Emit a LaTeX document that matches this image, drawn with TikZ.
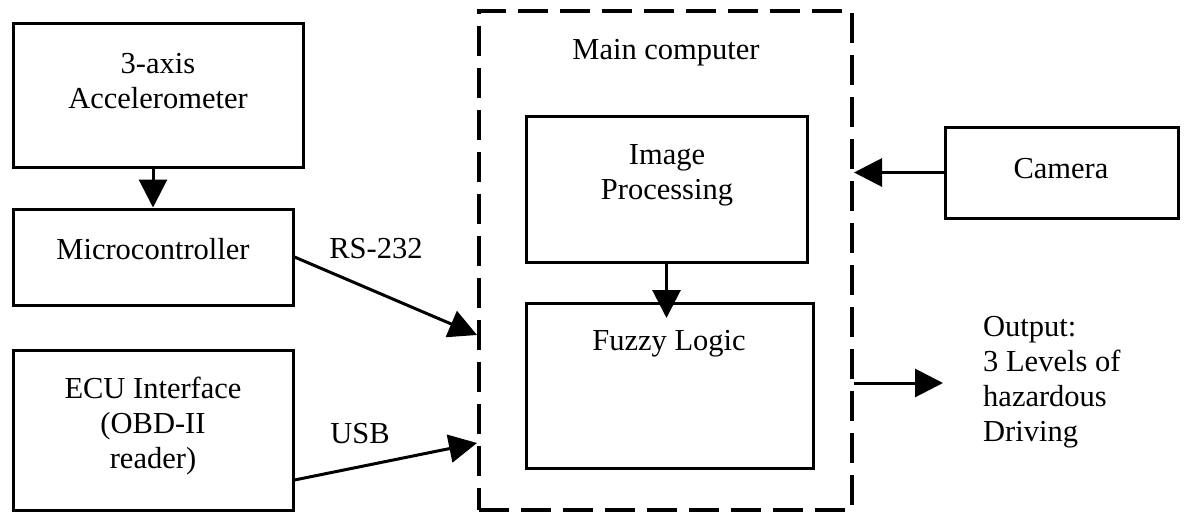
\documentclass[tikz,border=0pt]{standalone}
\usepackage{fontspec}
\setmainfont{Liberation Serif}
\usetikzlibrary{arrows.meta}
\begin{document}
\begin{tikzpicture}[x=1pt,y=-1pt,
  box/.style={draw,line width=3pt,inner sep=0pt,rectangle},
  dbox/.style={draw,line width=4pt,inner sep=0pt,rectangle,dash pattern=on 30pt off 12pt},
  txt/.style={font=\fontsize{30.5}{35}\selectfont,align=center,inner sep=0pt},
  arr/.style={line width=3pt,-{Triangle[length=28pt,width=28pt]}}]
\useasboundingbox (0,0) rectangle (1187,512);
% boxes
\node[box,minimum width=290pt,minimum height=144pt] (acc) at (158,95) {};
\node[box,minimum width=280pt,minimum height=96pt] (mic) at (153,257) {};
\node[box,minimum width=280pt,minimum height=160pt] (ecu) at (153,430) {};
\node[dbox,minimum width=373pt,minimum height=499pt] (main) at (665.5,260.5) {};
\node[box,minimum width=281pt,minimum height=146pt] (ip) at (666.5,189) {};
\node[box,minimum width=287pt,minimum height=165pt] (fl) at (669.5,385.5) {};
\node[box,minimum width=233pt,minimum height=91pt] (cam) at (1061.5,172.5) {};
% texts
\node[txt] (acct) at (158,81) {3-axis\\Accelerometer};
\node[txt] (mict) at (153,249) {Microcontroller};
\node[txt] (ecut) at (153,426) {ECU Interface\\(OBD-II\\reader)};
\node[txt] (rs) at (376,249) {RS-232};
\node[txt] (usb) at (360,434) {USB};
\node[txt] (mainT) at (666,53) {Main computer};
\node[txt] (ipt) at (667,175) {Image\\Processing};
\node[txt] (flt) at (669,344) {Fuzzy Logic};
\node[txt] (camt) at (1061,169) {Camera};
\node[txt,align=left,anchor=west] (out) at (983,382) {Output:\\3 Levels of\\hazardous\\Driving};
% connectors
\coordinate (rsend) at (main.west |- 0,335);
\coordinate (usbstart) at (ecu.east |- 0,480);
\coordinate (usbend) at (main.west |- 0,443);
\coordinate (ipend) at (ip.south |- 0,318);
\coordinate (outstart) at (main.east |- 0,383);
\coordinate (outend) at (943,383);
\draw[arr] (acc.south -| mic.north) -- (mic.north);
\draw[arr] (mic.east) -- (rsend);
\draw[arr] (usbstart) -- (usbend);
\draw[arr] (ip.south) -- (ipend);
\draw[arr] (cam.west) -- (main.east |- cam.west);
\draw[arr] (outstart) -- (outend);
\end{tikzpicture}
\end{document}
